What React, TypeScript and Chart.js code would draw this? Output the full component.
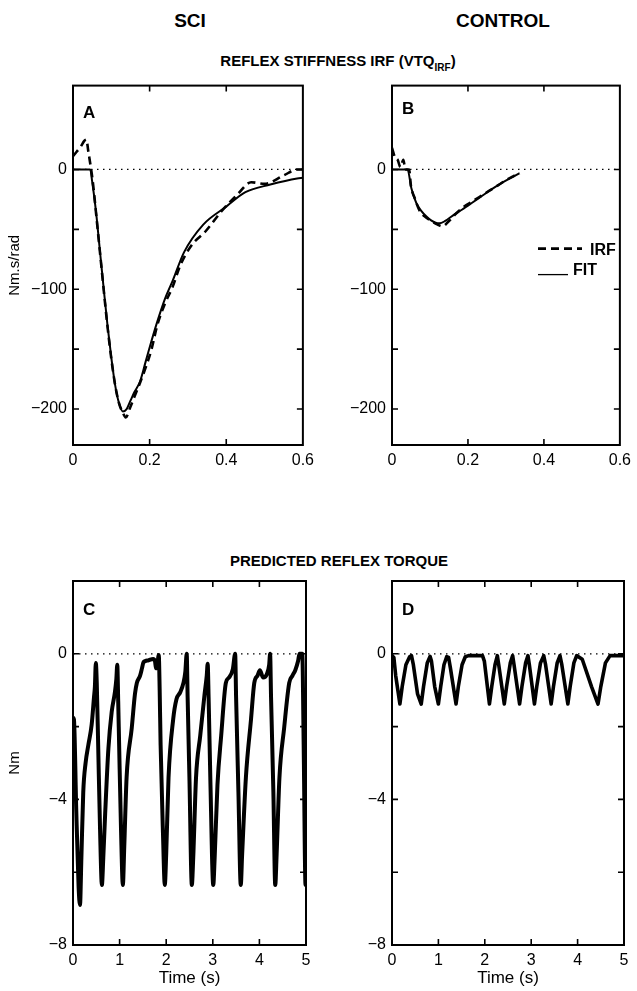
import React, { useEffect, useRef } from 'react';
import { Chart, registerables } from 'chart.js';
Chart.register(...registerables);

const FONT = '"Liberation Sans", Arial, Helvetica, sans-serif';

// ---------- Panel A (SCI) reflex stiffness IRF ----------
const irfTimeA = [0.0, 0.01, 0.02, 0.03, 0.035, 0.04, 0.045, 0.05, 0.055, 0.06, 0.07, 0.08, 0.09, 0.1, 0.11, 0.12, 0.13, 0.1375, 0.15, 0.16, 0.175, 0.19, 0.205, 0.22, 0.24, 0.26, 0.28, 0.31, 0.345, 0.39, 0.43, 0.465, 0.5, 0.55, 0.585, 0.6];
const irfValA = [11, 15, 19, 24, 25, 15, 5, -6, -20, -36, -68, -100, -131, -158, -180, -195, -203, -207, -198, -190, -178, -165, -150, -130, -112, -98, -80, -63, -52, -34, -20.6, -10.7, -12, -5, 0, 0];
const fitTimeA = [0.0, 0.045, 0.05, 0.06, 0.07, 0.08, 0.09, 0.1, 0.11, 0.12, 0.13, 0.14, 0.15, 0.16, 0.175, 0.19, 0.205, 0.22, 0.24, 0.26, 0.29, 0.34, 0.4, 0.45, 0.515, 0.585, 0.6];
const fitValA = [0, 0, -10, -35, -67, -99, -130, -157, -180, -195, -202, -200, -193, -186, -177, -160, -143, -127, -108, -93, -69, -46, -31, -19, -12.6, -7.5, -7];

// ---------- Panel B (CONTROL) reflex stiffness IRF ----------
const irfTimeB = [0.0, 0.008, 0.015, 0.022, 0.03, 0.035, 0.045, 0.05, 0.06, 0.072, 0.085, 0.103, 0.12, 0.133, 0.15, 0.168, 0.19, 0.21, 0.23, 0.26, 0.28, 0.305, 0.32, 0.336];
const irfValB = [18, 10, 8, 2, 8, 0, 0, -14, -24, -34, -39, -43, -46, -47.5, -43, -37, -31, -27, -23, -17, -13, -8, -5.5, -3];
const fitTimeB = [0.0, 0.041, 0.051, 0.064, 0.077, 0.09, 0.103, 0.115, 0.125, 0.14, 0.16, 0.184, 0.21, 0.235, 0.26, 0.287, 0.31, 0.335];
const fitValB = [0, 0, -15.7, -28, -34.5, -39, -42.5, -44.5, -45, -43, -38.5, -33.6, -28, -22.5, -17, -11.6, -7.5, -3.3];

// ---------- Panel C (SCI) predicted reflex torque ----------
const torqueTimeC = [0.0, 0.02, 0.07, 0.12, 0.15, 0.18, 0.22, 0.27, 0.33, 0.4, 0.45, 0.47, 0.49, 0.51, 0.54, 0.58, 0.62, 0.65, 0.69, 0.76, 0.83, 0.9, 0.93, 0.95, 0.97, 0.99, 1.03, 1.07, 1.1, 1.15, 1.26, 1.33, 1.37, 1.44, 1.48, 1.51, 1.55, 1.62, 1.72, 1.76, 1.78, 1.81, 1.84, 1.86, 1.88, 1.93, 1.97, 2.0, 2.05, 2.15, 2.22, 2.3, 2.37, 2.41, 2.44, 2.46, 2.5, 2.55, 2.58, 2.64, 2.73, 2.82, 2.87, 2.89, 2.91, 2.95, 3.01, 3.04, 3.1, 3.18, 3.28, 3.35, 3.43, 3.48, 3.5, 3.55, 3.6, 3.63, 3.71, 3.82, 3.89, 3.96, 4.01, 4.08, 4.16, 4.21, 4.23, 4.25, 4.3, 4.34, 4.37, 4.43, 4.53, 4.64, 4.71, 4.77, 4.83, 4.86, 4.92, 4.95, 4.99, 5.0];
const torqueValC = [-1.75, -1.8, -4.3, -6.4, -6.9, -5.6, -3.8, -3.0, -2.5, -1.95, -1.2, -0.9, -0.25, -0.8, -2.5, -4.8, -6.35, -5.6, -4.4, -2.6, -1.6, -1.05, -0.7, -0.3, -1.3, -2.5, -4.8, -6.35, -5.3, -3.4, -2.05, -1.1, -0.8, -0.6, -0.4, -0.24, -0.2, -0.18, -0.14, -0.2, -0.4, -0.3, -0.03, -1.0, -2.5, -4.9, -6.35, -5.5, -3.4, -1.8, -1.25, -1.06, -0.8, -0.5, 0, -1.2, -3.5, -6.35, -5.6, -3.4, -2.25, -1.15, -0.6, -0.27, -1.2, -3.6, -6.35, -5.6, -3.6, -2.25, -0.8, -0.65, -0.42, 0, -1.2, -3.8, -6.35, -5.5, -3.4, -1.8, -0.8, -0.6, -0.45, -0.65, -0.56, -0.3, 0, -1.2, -3.8, -6.35, -5.5, -3.4, -2.05, -0.8, -0.6, -0.45, -0.2, 0, 0, -2.5, -6.35, -6.35];

// ---------- Panel D (CONTROL) predicted reflex torque ----------
const torqueTimeD = [0.0, 0.04, 0.08, 0.17, 0.22, 0.3, 0.38, 0.42, 0.46, 0.55, 0.63, 0.68, 0.76, 0.82, 0.85, 0.92, 1.0, 1.05, 1.12, 1.18, 1.22, 1.26, 1.38, 1.43, 1.51, 1.58, 1.65, 1.95, 1.99, 2.1, 2.15, 2.22, 2.27, 2.3, 2.42, 2.47, 2.55, 2.6, 2.63, 2.75, 2.8, 2.88, 2.93, 2.96, 3.07, 3.12, 3.2, 3.27, 3.31, 3.43, 3.48, 3.56, 3.62, 3.66, 3.79, 3.84, 3.92, 3.98, 4.1, 4.3, 4.44, 4.5, 4.6, 4.7, 5.0];
const torqueValD = [-0.05, -0.1, -0.6, -1.38, -0.9, -0.3, -0.08, -0.05, -0.3, -1.1, -1.38, -0.9, -0.25, -0.07, -0.2, -0.9, -1.38, -0.9, -0.3, -0.08, -0.1, -0.4, -1.38, -0.9, -0.3, -0.08, -0.05, -0.05, -0.2, -1.38, -0.9, -0.3, -0.05, -0.3, -1.38, -0.9, -0.25, -0.05, -0.3, -1.38, -0.9, -0.25, -0.05, -0.3, -1.38, -0.9, -0.25, -0.05, -0.3, -1.38, -0.9, -0.25, -0.05, -0.3, -1.38, -0.9, -0.25, -0.05, -0.15, -0.9, -1.38, -0.9, -0.25, -0.05, -0.05];

// ---------- axes ----------
const irfXRange = [0, 0.6];
const irfYRange = [-230, 70];
const irfXTicks = [0, 0.2, 0.4, 0.6];
const irfYTicks = [-200, -150, -100, -50, 0];
const irfYLabels = [-200, -100, 0];
const torqueXRange = [0, 5];
const torqueYRange = [-8, 2];
const torqueXTicks = [0, 1, 2, 3, 4, 5];
const torqueYTicks = [-8, -6, -4, -2, 0];
const torqueYLabels = [-8, -4, 0];

const pts = (xs: number[], ys: number[]) => xs.map((x, i) => ({ x, y: ys[i] }));
const fmt = (v: number) => (v < 0 ? '\u2212' + String(Math.abs(v)) : String(v));
const fmtX1 = (v: number) => (v === 0 ? '0' : v.toFixed(1));
const fmtX0 = (v: number) => String(v);

const framePlugin = {
  id: 'frame',
  afterDraw(chart: any, _args: any, opts: any) {
    const { ctx, chartArea: a, scales } = chart;
    ctx.save();
    ctx.strokeStyle = '#000';
    ctx.fillStyle = '#000';
    ctx.lineWidth = 2;
    ctx.strokeRect(a.left, a.top, a.right - a.left, a.bottom - a.top);
    const tl = 6;
    ctx.lineWidth = 1.6;
    ctx.beginPath();
    scales.x.ticks.forEach((t: any) => {
      const px = scales.x.getPixelForValue(t.value);
      if (px <= a.left + 1 || px >= a.right - 1) return;
      ctx.moveTo(px, a.bottom);
      ctx.lineTo(px, a.bottom - tl);
      ctx.moveTo(px, a.top);
      ctx.lineTo(px, a.top + tl);
    });
    scales.y.ticks.forEach((t: any) => {
      const py = scales.y.getPixelForValue(t.value);
      if (py <= a.top + 1 || py >= a.bottom - 1) return;
      ctx.moveTo(a.left, py);
      ctx.lineTo(a.left + tl, py);
      ctx.moveTo(a.right, py);
      ctx.lineTo(a.right - tl, py);
    });
    ctx.stroke();
    if (opts && opts.letter) {
      ctx.font = 'bold 17px ' + FONT;
      ctx.textBaseline = 'alphabetic';
      ctx.textAlign = 'left';
      ctx.fillText(opts.letter, a.left + 10, a.top + opts.letterDy);
    }
    if (opts && opts.legend) {
      const ds = chart.data.datasets;
      ctx.font = 'bold 16px ' + FONT;
      ctx.lineWidth = ds[1].borderWidth;
      ctx.setLineDash(ds[1].borderDash);
      ctx.beginPath();
      ctx.moveTo(a.left + 146, a.top + 163);
      ctx.lineTo(a.left + 190, a.top + 163);
      ctx.stroke();
      ctx.setLineDash([]);
      ctx.fillText(ds[1].label, a.left + 198, a.top + 169);
      ctx.lineWidth = 1.3;
      ctx.beginPath();
      ctx.moveTo(a.left + 146, a.top + 189);
      ctx.lineTo(a.left + 176, a.top + 189);
      ctx.stroke();
      ctx.fillText(ds[0].label, a.left + 181, a.top + 189);
    }
    ctx.restore();
  },
};

type PanelProps = {
  left: number; top: number; width: number; height: number;
  padTop: number; padRight: number; yAxisW: number; xAxisH: number;
  xRange: number[]; yRange: number[]; xTicks: number[]; yTicks: number[]; yLabels: number[];
  xFmt: (v: number) => string; datasets: any[]; letter: string; letterDy: number;
  legend?: boolean; yTitle?: string; xTitle?: string;
};

function Panel(p: PanelProps) {
  const ref = useRef<HTMLCanvasElement | null>(null);
  useEffect(() => {
    const chart = new Chart(ref.current as HTMLCanvasElement, {
      type: 'line',
      data: { datasets: p.datasets },
      options: {
        animation: false,
        responsive: false,
        devicePixelRatio: 1,
        layout: { padding: { top: p.padTop, right: p.padRight, left: 0, bottom: 0 } },
        elements: { point: { radius: 0 } },
        plugins: {
          legend: { display: false },
          tooltip: { enabled: false },
          frame: { letter: p.letter, letterDy: p.letterDy, legend: !!p.legend },
        } as any,
        scales: {
          x: {
            type: 'linear',
            min: p.xRange[0],
            max: p.xRange[1],
            afterBuildTicks: (s: any) => { s.ticks = p.xTicks.map((v) => ({ value: v })); },
            afterFit: (s: any) => { s.height = p.xAxisH; },
            grid: { display: false, drawTicks: false },
            border: { display: false },
            ticks: {
              font: { family: FONT, size: 16 }, color: '#000', padding: 6,
              maxRotation: 0, autoSkip: false,
              callback: (v: any) => p.xFmt(Number(v)),
            },
            title: p.xTitle
              ? { display: true, text: p.xTitle, color: '#000', font: { family: FONT, size: 17 }, padding: { top: 0, bottom: 2 } }
              : { display: false },
          },
          y: {
            type: 'linear',
            min: p.yRange[0],
            max: p.yRange[1],
            afterBuildTicks: (s: any) => { s.ticks = p.yTicks.map((v) => ({ value: v })); },
            afterFit: (s: any) => { s.width = p.yAxisW; },
            grid: { display: false, drawTicks: false },
            border: { display: false },
            ticks: {
              font: { family: FONT, size: 16 }, color: '#000', padding: 6, autoSkip: false,
              callback: (v: any) => (p.yLabels.includes(Number(v)) ? fmt(Number(v)) : ''),
            },
            title: p.yTitle
              ? { display: true, text: p.yTitle, color: '#000', font: { family: FONT, size: 15 }, padding: { top: 6, bottom: 0 } }
              : { display: false },
          },
        },
      } as any,
      plugins: [framePlugin as any],
    });
    return () => chart.destroy();
  }, []);
  return (
    <canvas
      ref={ref}
      width={p.width}
      height={p.height}
      style={{ position: 'absolute', left: p.left, top: p.top, width: p.width, height: p.height }}
    />
  );
}

const zero = (r: number[]) => ({
  label: 'zero',
  data: pts(r, [0, 0]),
  borderColor: '#000',
  borderWidth: 1.2,
  borderDash: [1.5, 4.5],
  pointRadius: 0,
});

const irfDatasets = (ft: number[], fv: number[], it: number[], iv: number[]) => [
  { label: 'FIT', data: pts(ft, fv), borderColor: '#000', borderWidth: 2, pointRadius: 0, cubicInterpolationMode: 'monotone' },
  { label: 'IRF', data: pts(it, iv), borderColor: '#000', borderWidth: 2.6, borderDash: [8, 5], pointRadius: 0, cubicInterpolationMode: 'monotone' },
  zero(irfXRange),
];

const torqueDatasets = (t: number[], v: number[], smooth: boolean) => [
  smooth
    ? { label: 'Torque', data: pts(t, v), borderColor: '#000', borderWidth: 4, pointRadius: 0, cubicInterpolationMode: 'monotone', borderJoinStyle: 'round', borderCapStyle: 'round' }
    : { label: 'Torque', data: pts(t, v), borderColor: '#000', borderWidth: 3.6, pointRadius: 0, tension: 0, borderJoinStyle: 'round', borderCapStyle: 'round' },
  zero(torqueXRange),
];

function Heading({ cx, baseline, size, bold = true, children }: any) {
  return (
    <div
      style={{
        position: 'absolute', left: cx - 250, width: 500, textAlign: 'center',
        top: baseline - 0.8465 * size, fontSize: size, lineHeight: size + 'px',
        fontWeight: bold ? 'bold' : 'normal', fontFamily: FONT, color: '#000', whiteSpace: 'nowrap',
      }}
    >
      {children}
    </div>
  );
}

export default function App() {
  return (
    <div style={{ position: 'absolute', left: 0, top: 0, width: 637, height: 991, background: '#fff', overflow: 'hidden' }}>
      <Heading cx={190} baseline={27} size={19}>SCI</Heading>
      <Heading cx={503} baseline={27} size={19}>CONTROL</Heading>
      <Heading cx={338} baseline={66} size={15}>
        REFLEX STIFFNESS IRF (VTQ
        <span style={{ fontSize: 10, position: 'relative', top: 5 }}>IRF</span>)
      </Heading>
      <Heading cx={339} baseline={566} size={15}>PREDICTED REFLEX TORQUE</Heading>

      <Panel
        left={0} top={70} width={320} height={410} padTop={14} padRight={14} yAxisW={73} xAxisH={35}
        xRange={irfXRange} yRange={irfYRange} xTicks={irfXTicks} yTicks={irfYTicks} yLabels={irfYLabels}
        xFmt={fmtX1} datasets={irfDatasets(fitTimeA, fitValA, irfTimeA, irfValA)} letter="A" letterDy={32}
        yTitle="Nm.s/rad"
      />
      <Panel
        left={330} top={70} width={307} height={410} padTop={14} padRight={13} yAxisW={62} xAxisH={35}
        xRange={irfXRange} yRange={irfYRange} xTicks={irfXTicks} yTicks={irfYTicks} yLabels={irfYLabels}
        xFmt={fmtX1} datasets={irfDatasets(fitTimeB, fitValB, irfTimeB, irfValB)} letter="B" letterDy={28}
        legend
      />
      <Panel
        left={0} top={565} width={320} height={426} padTop={16} padRight={14} yAxisW={73} xAxisH={46}
        xRange={torqueXRange} yRange={torqueYRange} xTicks={torqueXTicks} yTicks={torqueYTicks} yLabels={torqueYLabels}
        xFmt={fmtX0} datasets={torqueDatasets(torqueTimeC, torqueValC, true)} letter="C" letterDy={34}
        yTitle="Nm" xTitle="Time (s)"
      />
      <Panel
        left={330} top={565} width={307} height={426} padTop={16} padRight={13} yAxisW={62} xAxisH={46}
        xRange={torqueXRange} yRange={torqueYRange} xTicks={torqueXTicks} yTicks={torqueYTicks} yLabels={torqueYLabels}
        xFmt={fmtX0} datasets={torqueDatasets(torqueTimeD, torqueValD, false)} letter="D" letterDy={34}
        xTitle="Time (s)"
      />
    </div>
  );
}
